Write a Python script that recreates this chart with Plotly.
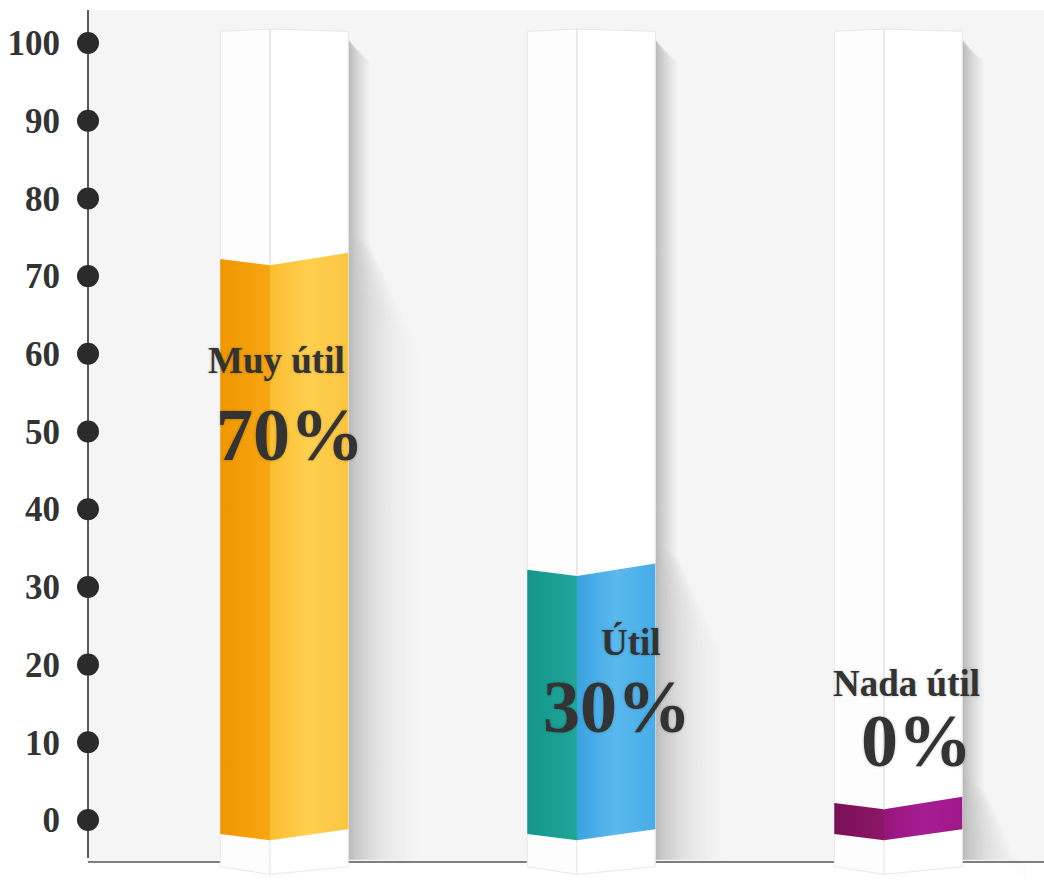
import plotly.graph_objects as go

# ---- data -------------------------------------------------------------
categories = ["Muy útil", "Útil", "Nada útil"]
percent = [70, 30, 0]
y_ticks = [0, 10, 20, 30, 40, 50, 60, 70, 80, 90, 100]

# ---- styling ------------------------------------------------------------
# gradient stops for the two visible faces of each column's liquid
left_face_colors = [["#F09600", "#F7A712"], ["#14968C", "#21A69A"], ["#7A1057", "#8D1766"]]
right_face_colors = [["#FBBE30", "#FFD050", "#FCC540"], ["#3BA3E0", "#5AB9EE", "#47ACE6"],
                     ["#95167A", "#A71C93", "#9E1888"]]
label_y = [59.2, 22.9, 17.6]       # heights of the category names
pct_y = [49.6, 14.6, 10.2]         # heights of the percentage texts
label_dx = [-8, 40, 8]             # horizontal nudges (px) of the names
pct_dx = [6, 26, 18]               # horizontal nudges (px) of the percentages

LEFT_W, RIGHT_W = 0.162, 0.255     # face widths in x units
SHELL_TOP = 101.5
TOP_OFF = (2.2, 1.4, 3.0)          # liquid surface (left corner, fold, right corner)
BOT_OFF = (-1.8, -2.6, -1.2)       # liquid bottom
BASE_OFF = (-6.0, -7.0, -6.0)      # bottom of the glass column
X_RANGE = [-0.5928, 2.5212]
Y_RANGE = [-7.72, 104.25]
BASELINE = -5.4

# stacked translucent, fading layers build a soft shadow
N_SHADOW = 10
GLASS_SHADOW_W = 0.07
LIQUID_SHADOW_W = 0.23

FONT = "Liberation Serif"
TEXT_COLOR = "#333333"

fig = go.Figure()

def poly(xs, ys, **kw):
    fig.add_trace(go.Scatter(x=xs + [xs[0]], y=ys + [ys[0]], mode="lines", fill="toself",
                             hoverinfo="skip", showlegend=False, **kw))

for i, (cat, v) in enumerate(zip(categories, percent)):
    c = i
    xl, xr = c - LEFT_W, c + RIGHT_W

    # soft shadow cast to the right of the column
    for k in range(1, N_SHADOW + 1):
        f = k / N_SHADOW
        lw, ww = GLASS_SHADOW_W * f, LIQUID_SHADOW_W * f
        poly([xr, xr + lw, xr + lw, xr + ww, xr + ww, xr],
             [SHELL_TOP - 1, SHELL_TOP - 2 - 2 * f, v + 6 - 2 * f, v - 2 - 8 * f,
              BASELINE + 0.3, BASELINE + 0.3],
             line=dict(width=0, color="rgba(0,0,0,0)"),
             fillgradient=dict(type="horizontal",
                               colorscale=[[0, "rgba(0,0,0,0.028)"], [1, "rgba(0,0,0,0.004)"]]))

    # white glass shell, two faces
    poly([xl, xl, c, c], [BASE_OFF[0], SHELL_TOP, SHELL_TOP + 0.3, BASE_OFF[1]],
         line=dict(width=1, color="#E8E8E8"), fillcolor="#FDFDFD")
    poly([c, c, xr, xr], [BASE_OFF[1], SHELL_TOP + 0.3, SHELL_TOP, BASE_OFF[2]],
         line=dict(width=1, color="#E8E8E8"), fillcolor="#FFFFFF")

    # liquid level drawn from the value
    top = [v + o for o in TOP_OFF]
    bot = list(BOT_OFF)
    lc = left_face_colors[i]
    rc = right_face_colors[i]
    poly([xl, xl, c, c], [bot[0], top[0], top[1], bot[1]],
         line=dict(width=0, color=lc[0]),
         fillgradient=dict(type="horizontal", colorscale=[[0, lc[0]], [1, lc[1]]]))
    poly([c, c, xr, xr], [bot[1], top[1], top[2], bot[2]],
         line=dict(width=0, color=rc[0]),
         fillgradient=dict(type="horizontal",
                           colorscale=[[0, rc[0]], [0.5, rc[1]], [1, rc[2]]]))

    # fold line on the glass above the liquid
    fig.add_trace(go.Scatter(x=[c, c], y=[top[1], SHELL_TOP + 0.3], mode="lines",
                             line=dict(color="#E6E6E6", width=1.5),
                             hoverinfo="skip", showlegend=False))

    # texts
    fig.add_annotation(x=c + (RIGHT_W - LEFT_W) / 2, y=label_y[i], text=cat, showarrow=False,
                       xshift=label_dx[i],
                       font=dict(family=FONT, size=37, color=TEXT_COLOR, weight="bold",
                                 shadow="0px 0px 3px rgba(0,0,0,0.25)"))
    fig.add_annotation(x=c + (RIGHT_W - LEFT_W) / 2, y=pct_y[i], text=f"{v}%", showarrow=False,
                       xshift=pct_dx[i],
                       font=dict(family=FONT, size=74, color=TEXT_COLOR, weight="bold",
                                 shadow="0px 0px 3px rgba(0,0,0,0.25)"))

# tick dots on the value axis
fig.add_trace(go.Scatter(x=[X_RANGE[0]] * len(y_ticks), y=y_ticks, mode="markers",
                         marker=dict(size=22, color="#2B2B2B"), cliponaxis=False,
                         hoverinfo="skip", showlegend=False))

# white strip under the baseline, axis line and baseline
fig.add_shape(type="rect", xref="paper", x0=0, x1=1, yref="y", y0=Y_RANGE[0], y1=BASELINE,
              fillcolor="#FFFFFF", line=dict(width=0), layer="below")
fig.add_shape(type="line", xref="paper", x0=0, x1=0, yref="y", y0=BASELINE + 0.5, y1=Y_RANGE[1],
              line=dict(color="#5A5A5A", width=2), layer="below")
fig.add_shape(type="line", xref="paper", x0=0, x1=1, yref="y", y0=BASELINE, y1=BASELINE,
              line=dict(color="#555555", width=1.5), layer="below")

fig.update_layout(
    width=1044, height=880,
    margin=dict(l=88, r=0, t=10, b=0),
    paper_bgcolor="#FFFFFF",
    plot_bgcolor="#F5F5F5",
    showlegend=False,
    xaxis=dict(range=X_RANGE, visible=False, fixedrange=True),
    yaxis=dict(range=Y_RANGE, tickvals=y_ticks, ticktext=[str(t) for t in y_ticks],
               showgrid=False, zeroline=False, showline=False,
               ticks="outside", ticklen=20, tickcolor="rgba(0,0,0,0)",
               tickfont=dict(family=FONT, size=35, color=TEXT_COLOR, weight="bold"),
               fixedrange=True),
)

fig.write_html("out.html")
